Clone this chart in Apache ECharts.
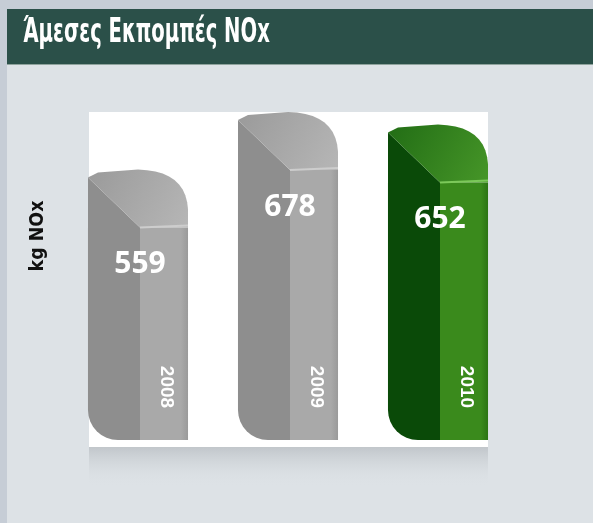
<!DOCTYPE html>
<html>
<head>
<meta charset="utf-8">
<script src="https://cdn.jsdelivr.net/npm/echarts@6/dist/echarts.min.js"></script>
<style>
  html, body { margin: 0; padding: 0; background: #c6cdd6; }
  #chart { width: 593px; height: 523px; }
</style>
</head>
<body>
<div id="chart"></div>
<script>
// data
const years = ['2008', '2009', '2010'];
const emissions = [559, 678, 652];
const highlight = [false, false, true];

// bar colours: side face, cap (dark->light), front face
const grayLook = { side: '#8e8e8e', capA: '#9a9a9a', capB: '#b6b6b6', front: '#a9a9a9', frontEdge: '#9a9a9a', rim: '#cdcdcd' };
const greenLook = { side: '#0a4a08', capA: '#226d15', capB: '#469628', front: '#3a8a1c', frontEdge: '#2c7414', rim: '#7cc95a' };

const condensed = '"DejaVu Sans Condensed", "DejaVu Sans", sans-serif';

const chart = echarts.init(document.getElementById('chart'));

function arcPts(cx, cy, r, a0, a1, n) {
  let pts = [];
  for (let k = 0; k <= n; k++) {
    let a = a0 + (a1 - a0) * k / n;
    pts.push([cx + r * Math.cos(a), cy + r * Math.sin(a)]);
  }
  return pts;
}

function quadPts(p0, c, p1, n) {
  let pts = [];
  for (let k = 0; k <= n; k++) {
    let s = k / n;
    pts.push([
      (1 - s) * (1 - s) * p0[0] + 2 * (1 - s) * s * c[0] + s * s * p1[0],
      (1 - s) * (1 - s) * p0[1] + 2 * (1 - s) * s * c[1] + s * s * p1[1]
    ]);
  }
  return pts;
}

function renderBar(params, api) {
  let i = api.value(0);
  let v = api.value(1);
  let top = api.coord([i, v]);
  let base = api.coord([i, 0]);
  let w = api.size([1, 0])[0] * 0.667;
  let x0 = top[0] - w / 2, x1 = top[0] + w / 2, xm = x0 + w * 0.52;
  let t = top[1], b = base[1];
  let cap = 58, r = 30;
  let look = highlight[i] ? greenLook : grayLook;

  let side = [[x0, t + 8], [xm, t + cap], [xm, b], [x0 + r, b]]
    .concat(arcPts(x0 + r, b - r, r, Math.PI / 2, Math.PI, 8));
  let capPts = [[x0, t + 8], [x0 + 0.1 * w, t + 3]]
    .concat(quadPts([x0 + 0.5 * w, t], [x1 - 2, t + 1], [x1, t + 40], 10))
    .concat([[x1, t + cap], [xm, t + cap]]);

  return {
    type: 'group',
    children: [
      {
        type: 'polygon',
        shape: { points: side },
        style: { fill: look.side }
      },
      {
        type: 'rect',
        shape: { x: xm, y: t + cap, width: x1 - xm, height: b - t - cap },
        style: {
          fill: new echarts.graphic.LinearGradient(0, 0, 1, 0, [
            { offset: 0, color: look.front },
            { offset: 0.85, color: look.front },
            { offset: 1, color: look.frontEdge }
          ])
        }
      },
      {
        type: 'polygon',
        shape: { points: capPts },
        style: {
          fill: new echarts.graphic.LinearGradient(0, 0, 1, 1, [
            { offset: 0, color: look.capA },
            { offset: 1, color: look.capB }
          ])
        }
      },
      {
        type: 'line',
        shape: { x1: xm, y1: t + cap, x2: x1, y2: t + cap - 2 },
        style: { stroke: look.rim, lineWidth: 2 }
      },
      {
        type: 'text',
        x: top[0] + 2,
        y: t + 95,
        style: {
          text: String(v),
          fill: '#ffffff',
          font: 'bold 30px "Open Sans", sans-serif',
          textAlign: 'center',
          textVerticalAlign: 'middle'
        }
      },
      {
        type: 'text',
        x: top[0] + 28,
        y: b - 53,
        rotation: -Math.PI / 2,
        style: {
          text: years[i],
          fill: '#ffffff',
          font: 'bold 19px "Liberation Sans", Arial, sans-serif',
          textAlign: 'center',
          textVerticalAlign: 'middle'
        }
      }
    ]
  };
}

let option = {
  backgroundColor: '#c6cdd6',
  animation: false,
  graphic: [
    { type: 'rect', z: 0, shape: { x: 7, y: 65, width: 586, height: 458 }, style: { fill: '#dde2e6' } },
    { type: 'rect', z: 0, shape: { x: 7, y: 9, width: 586, height: 56 }, style: { fill: '#2b5049' } },
    { type: 'rect', z: 0, shape: { x: 7, y: 64, width: 586, height: 1 }, style: { fill: '#8fa39d' } },
    {
      type: 'text', z: 1, x: 23, y: 33, scaleX: 0.66,
      style: {
        text: 'Άμεσες Εκπομπές NOx',
        fill: '#ffffff',
        font: 'bold 33px ' + condensed,
        textVerticalAlign: 'middle'
      }
    },
    {
      type: 'text', z: 1, x: 38, y: 236, rotation: Math.PI / 2, scaleX: 0.97,
      style: {
        text: 'kg NOx',
        fill: '#111111',
        font: 'bold 20px ' + condensed,
        textAlign: 'center',
        textVerticalAlign: 'middle'
      }
    },
    {
      type: 'rect', z: 0, shape: { x: 89, y: 447, width: 399, height: 40 },
      style: {
        fill: new echarts.graphic.LinearGradient(0, 0, 0, 1, [
          { offset: 0, color: 'rgba(170,175,180,0.55)' },
          { offset: 1, color: 'rgba(221,226,230,0)' }
        ])
      }
    },
    { type: 'rect', z: 0, shape: { x: 89, y: 112, width: 399, height: 335 }, style: { fill: '#ffffff' } }
  ],
  grid: { left: 63, right: 80, top: 112, bottom: 83 },
  xAxis: {
    type: 'category',
    data: years,
    axisLine: { show: false },
    axisTick: { show: false },
    axisLabel: { show: false }
  },
  yAxis: {
    type: 'value',
    min: 0,
    max: 678,
    axisLine: { show: false },
    axisTick: { show: false },
    axisLabel: { show: false },
    splitLine: { show: false }
  },
  series: [{
    type: 'custom',
    renderItem: renderBar,
    data: years.map((y, i) => [i, emissions[i]]),
    clip: true
  }]
};

chart.setOption(option);
</script>
</body>
</html>
